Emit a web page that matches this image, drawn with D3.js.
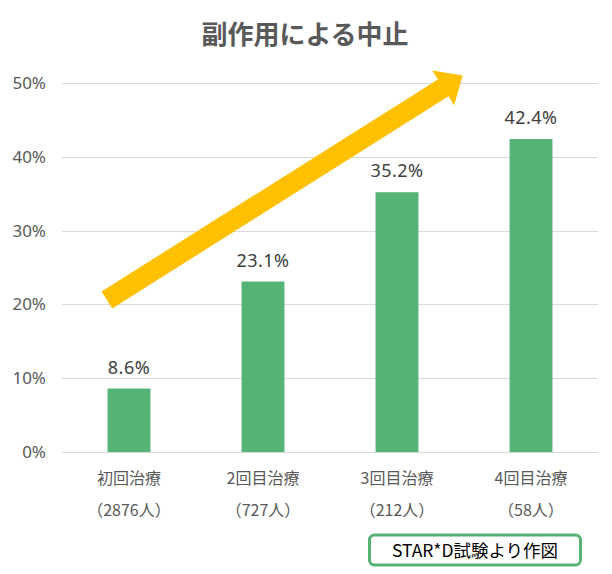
<!DOCTYPE html>
<html>
<head>
<meta charset="utf-8">
<script src="https://cdn.jsdelivr.net/npm/d3@7"></script>
<style>
  body { margin: 0; background: #fff; }
  svg { display: block; font-family: "Noto Sans CJK JP", "Noto Sans", sans-serif; }
</style>
</head>
<body>
<div id="chart"></div>
<script>
// data
var categories = ["初回治療", "2回目治療", "3回目治療", "4回目治療"];
var patients = ["（2876人）", "（727人）", "（212人）", "（58人）"];
var rates = [8.6, 23.1, 35.2, 42.4];
var yTicks = [0, 10, 20, 30, 40, 50];

var W = 612, H = 574;
var margin = {top: 83, right: 14, bottom: 122, left: 62},
    width = W - margin.left - margin.right,
    height = H - margin.top - margin.bottom;

var svg = d3.select("#chart")
  .append("svg")
    .attr("width", W)
    .attr("height", H);

// title
svg.append("text")
  .attr("x", 305)
  .attr("y", 44)
  .attr("text-anchor", "middle")
  .attr("font-size", 26)
  .attr("font-weight", "bold")
  .attr("fill", "#595959")
  .text("副作用による中止");

var g = svg.append("g")
  .attr("transform", "translate(" + margin.left + "," + margin.top + ")");

var x = d3.scaleBand()
  .domain(categories)
  .range([0, width])
  .paddingInner(0.68)
  .paddingOuter(0.34);

var y = d3.scaleLinear()
  .domain([0, 50])
  .range([height, 0]);

// gridlines
g.selectAll("line.grid")
  .data(yTicks)
  .enter().append("line")
    .attr("class", "grid")
    .attr("x1", 0)
    .attr("x2", width)
    .attr("y1", function(d) { return Math.round(y(d)) + 0.5; })
    .attr("y2", function(d) { return Math.round(y(d)) + 0.5; })
    .attr("stroke", "#d9d9d9")
    .attr("stroke-width", 1);

// y labels
var yAxis = g.append("g")
  .call(d3.axisLeft(y).tickValues(yTicks).tickSize(0).tickPadding(16)
    .tickFormat(function(d) { return d + "%"; }));
yAxis.select(".domain").remove();
yAxis.selectAll("text")
  .attr("font-size", 17)
  .attr("font-family", "'Noto Sans', sans-serif")
  .attr("fill", "#595959");

// bars
g.selectAll("rect.bar")
  .data(rates)
  .enter().append("rect")
    .attr("class", "bar")
    .attr("x", function(d, i) { return x(categories[i]); })
    .attr("y", function(d) { return y(d); })
    .attr("width", x.bandwidth())
    .attr("height", function(d) { return height - y(d); })
    .attr("fill", "#55b375");

// value labels
g.selectAll("text.val")
  .data(rates)
  .enter().append("text")
    .attr("class", "val")
    .attr("x", function(d, i) { return x(categories[i]) + x.bandwidth() / 2; })
    .attr("y", function(d) { return y(d) - 15; })
    .attr("text-anchor", "middle")
    .attr("font-size", 18)
    .attr("letter-spacing", 0.5)
    .attr("font-family", "'Noto Sans', sans-serif")
    .attr("fill", "#404040")
    .text(function(d) { return d.toFixed(1) + "%"; });

// category labels, two lines
var xAxis = g.append("g")
  .attr("transform", "translate(0," + height + ")");
xAxis.selectAll("text.cat")
  .data(categories)
  .enter().append("text")
    .attr("class", "cat")
    .attr("x", function(d) { return x(d) + x.bandwidth() / 2; })
    .attr("y", 32)
    .attr("text-anchor", "middle")
    .attr("font-size", 16)
    .attr("fill", "#595959")
    .text(function(d) { return d; });
xAxis.selectAll("text.pat")
  .data(patients)
  .enter().append("text")
    .attr("class", "pat")
    .attr("x", function(d, i) { return x(categories[i]) + x.bandwidth() / 2; })
    .attr("y", 64)
    .attr("text-anchor", "middle")
    .attr("font-size", 16)
    .attr("fill", "#595959")
    .text(function(d) { return d; });

// trend arrow, positioned in category-index / percent units
var xi = d3.scaleLinear().domain([0, categories.length]).range([0, width]);
var arrowFrom = [0.335, 20.6], arrowTo = [2.99, 51.0];
var x0 = xi(arrowFrom[0]), y0 = y(arrowFrom[1]);
var x1 = xi(arrowTo[0]), y1 = y(arrowTo[1]);
var ang = Math.atan2(y1 - y0, x1 - x0);
var len = Math.hypot(x1 - x0, y1 - y0);
var sw = 10, hw = 20.5, hl = 23;
var pts = [[0, -sw], [len - hl, -sw], [len - hl, -hw], [len, 0], [len - hl, hw], [len - hl, sw], [0, sw]];
g.append("polygon")
  .attr("points", pts.map(function(p) { return p.join(","); }).join(" "))
  .attr("transform", "translate(" + x0 + "," + y0 + ") rotate(" + (ang * 180 / Math.PI) + ")")
  .attr("fill", "#ffc000");

// source box
svg.append("rect")
  .attr("x", 369.5)
  .attr("y", 535)
  .attr("width", 211)
  .attr("height", 30)
  .attr("rx", 5)
  .attr("fill", "#fff")
  .attr("stroke", "#55b375")
  .attr("stroke-width", 3);
svg.append("text")
  .attr("x", 475)
  .attr("y", 557)
  .attr("text-anchor", "middle")
  .attr("font-size", 17.5)
  .attr("fill", "#000")
  .text("STAR*D試験より作図");
</script>
</body>
</html>
